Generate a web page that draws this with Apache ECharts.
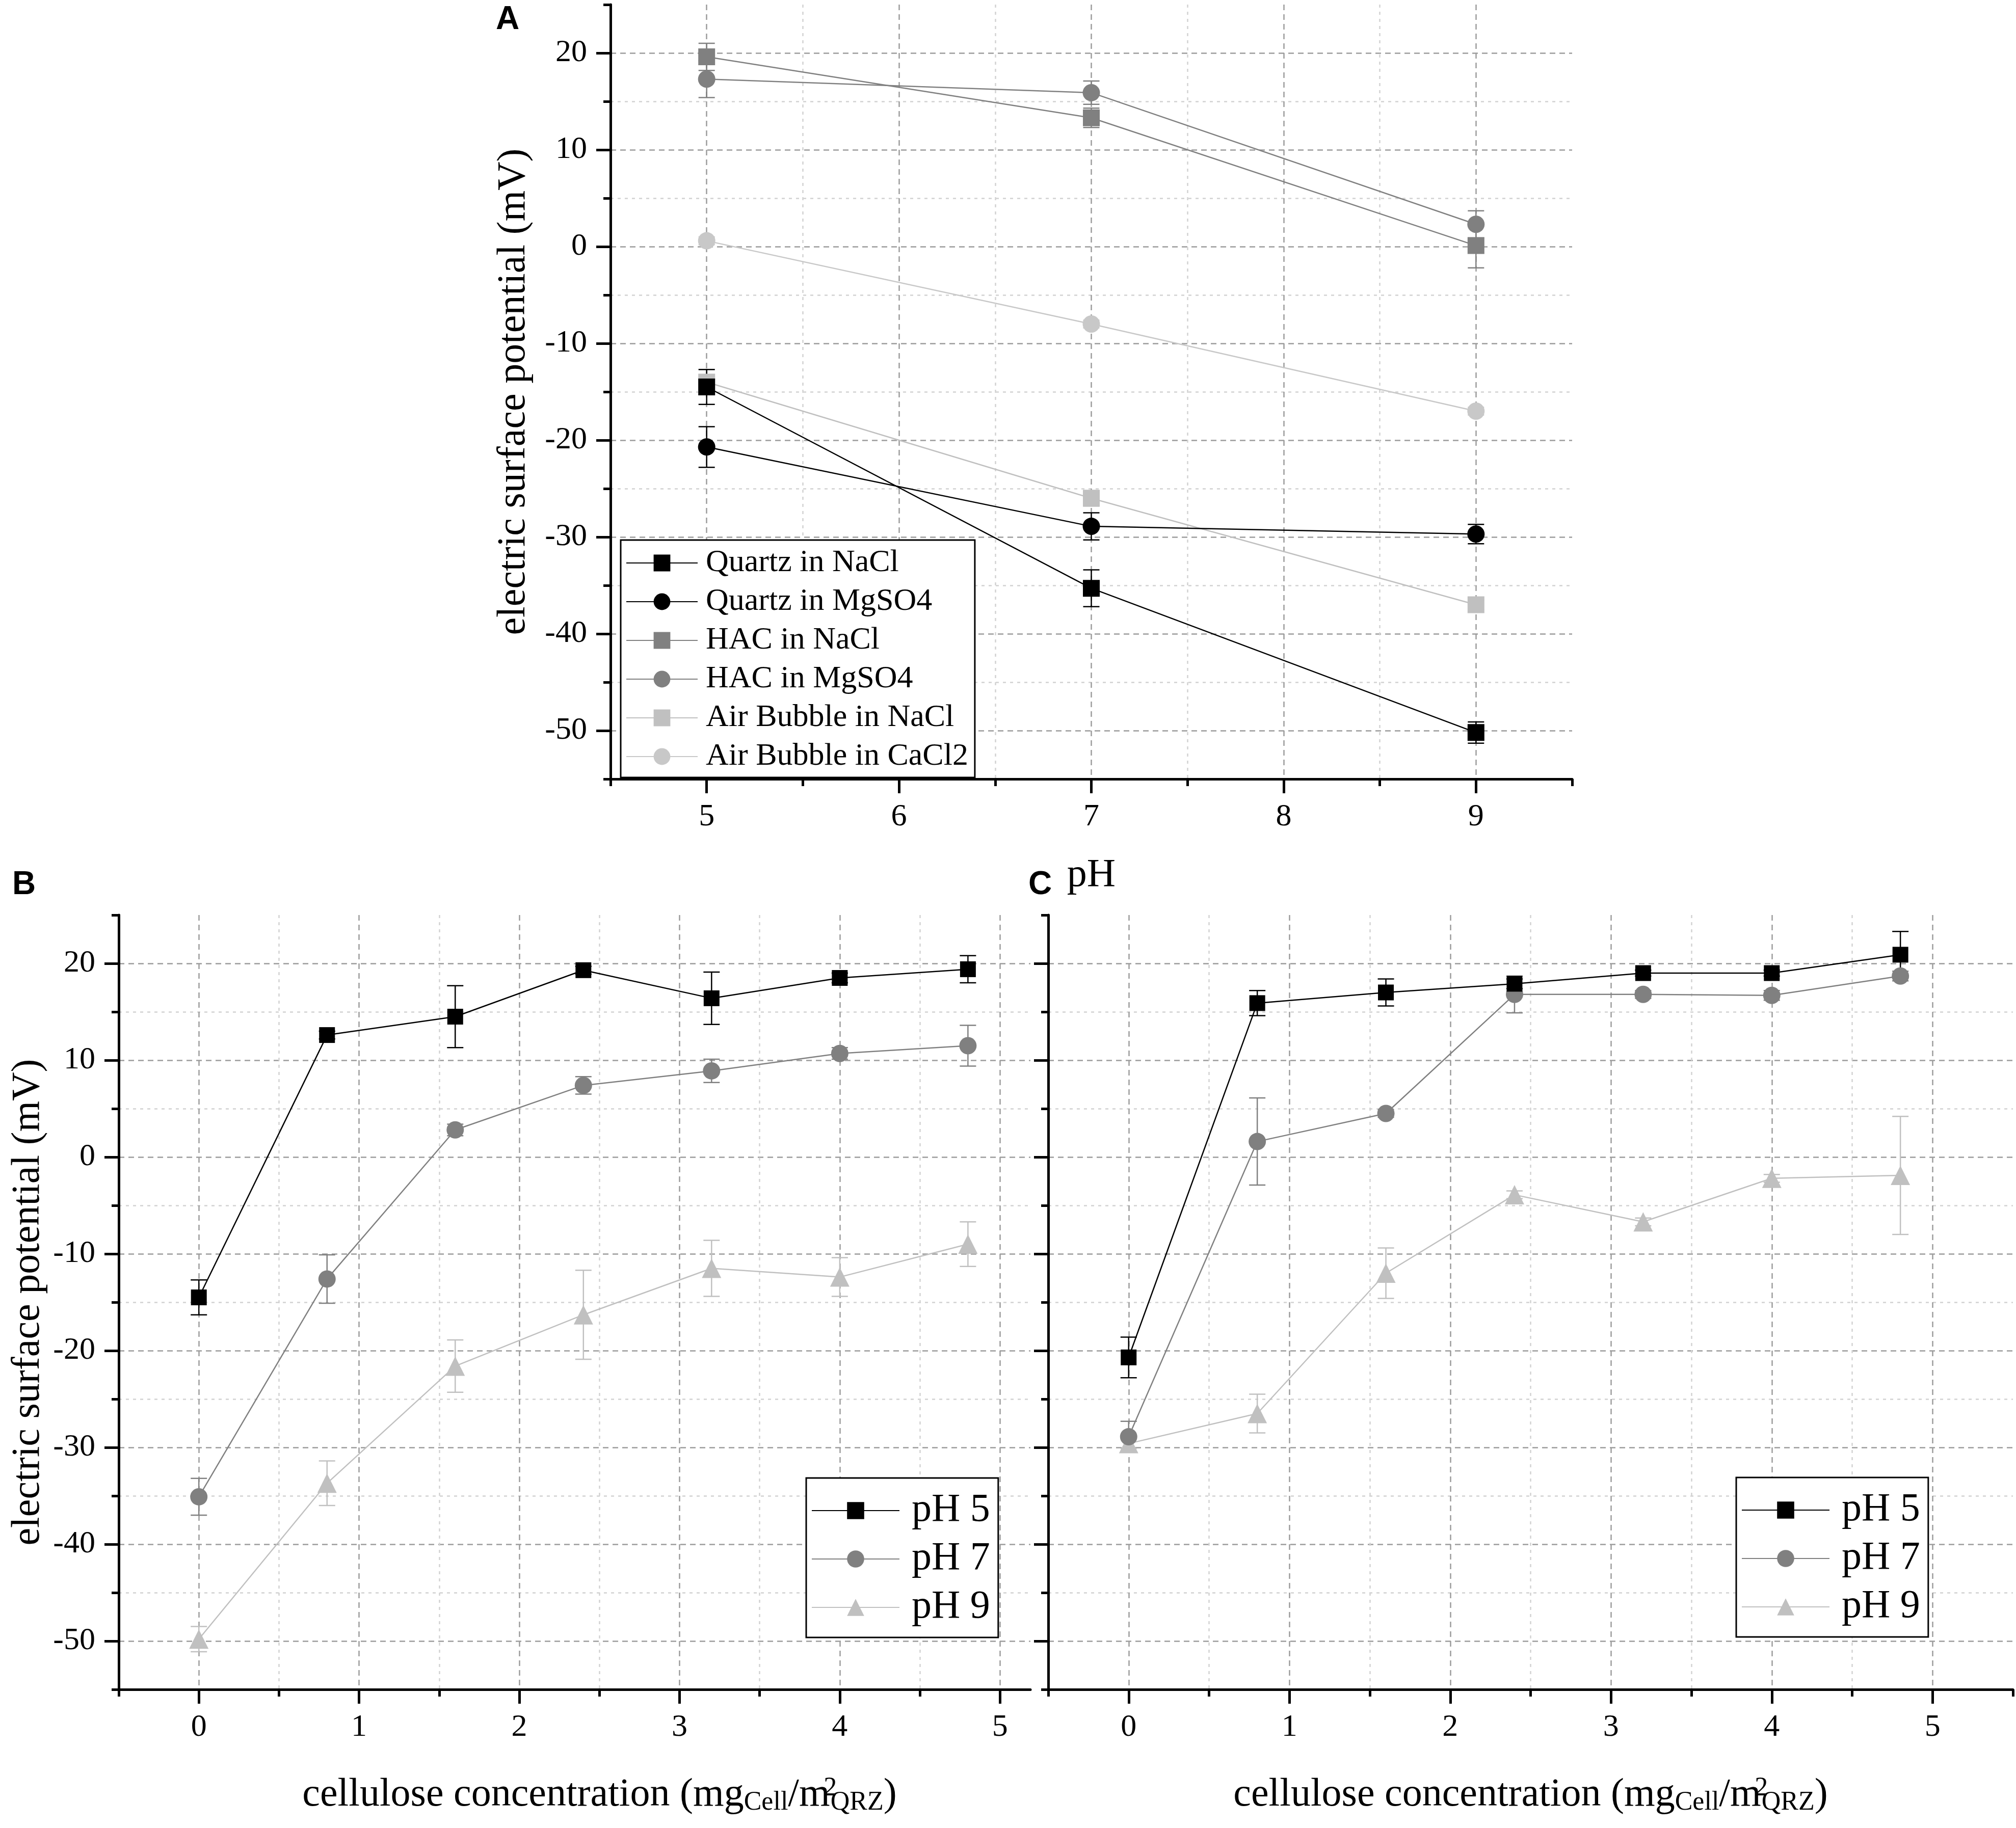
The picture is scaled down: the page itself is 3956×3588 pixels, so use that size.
<!DOCTYPE html>
<html>
<head>
<meta charset="utf-8">
<script src="https://cdn.jsdelivr.net/npm/echarts@6/dist/echarts.min.js"></script>
<style>
html, body { margin: 0; padding: 0; background: #fff; }
#chart { width: 3956px; height: 3588px; }
</style>
</head>
<body>
<div id="chart"></div>
<script>
// panel A: potential vs pH
const pHValues = [5, 7, 9];
const quartzNaCl = [-14.5, -35.3, -50.2];
const quartzNaClErr = [1.8, 1.9, 1.1];
const quartzMgSO4 = [-20.7, -28.9, -29.7];
const quartzMgSO4Err = [2.1, 1.4, 1.0];
const hacNaCl = [19.6, 13.3, 0.1];
const hacNaClErr = [1.4, 1.0, 2.3];
const hacMgSO4 = [17.3, 15.9, 2.3];
const hacMgSO4Err = [1.9, 1.2, 1.4];
const airNaCl = [-14.0, -26.0, -37.0];
const airNaClErr = [1.3, 0.8, 0.5];
const airCaCl2 = [0.6, -8.0, -17.0];
const airCaCl2Err = [0.4, 0.4, 0.4];

// panels B and C: potential vs cellulose concentration
const cellConc = [0, 0.8, 1.6, 2.4, 3.2, 4.0, 4.8];
const bPH5 = [-14.5, 12.6, 14.5, 19.3, 16.4, 18.5, 19.4];
const bPH5Err = [1.8, 0.4, 3.2, 0.4, 2.7, 0.5, 1.4];
const bPH7 = [-35.1, -12.6, 2.8, 7.4, 8.9, 10.7, 11.5];
const bPH7Err = [1.9, 2.5, 0.6, 0.9, 1.2, 0.6, 2.1];
const bPH9 = [-49.8, -33.7, -21.6, -16.3, -11.5, -12.4, -9.0];
const bPH9Err = [1.3, 2.3, 2.7, 4.6, 2.9, 2.0, 2.3];

const cPH5 = [-20.7, 15.9, 17.0, 17.9, 19.0, 19.0, 20.9];
const cPH5Err = [2.1, 1.3, 1.4, 0.5, 0.3, 0.3, 2.4];
const cPH7 = [-28.9, 1.6, 4.5, 16.8, 16.8, 16.7, 18.7];
const cPH7Err = [1.6, 4.5, 0.4, 1.9, 0.4, 0.5, 0.5];
const cPH9 = [-29.6, -26.5, -12.0, -3.9, -6.7, -2.2, -1.9];
const cPH9Err = [0.5, 2.0, 2.6, 0.4, 0.4, 0.4, 6.1];

// ticks
const yMajorTicks = [-50, -40, -30, -20, -10, 0, 10, 20];
const yMinorTicks = [-55, -45, -35, -25, -15, -5, 5, 15, 25];
const xMajorA = [5, 6, 7, 8, 9];
const xMinorA = [4.5, 5.5, 6.5, 7.5, 8.5, 9.5];
const xMajorBC = [0, 1, 2, 3, 4, 5];
const xMinorBC = [-0.5, 0.5, 1.5, 2.5, 3.5, 4.5, 5.5];

const legendA = ['Quartz in NaCl', 'Quartz in MgSO4', 'HAC in NaCl', 'HAC in MgSO4', 'Air Bubble in NaCl', 'Air Bubble in CaCl2'];
const legendBC = ['pH 5', 'pH 7', 'pH 9'];

const serif = 'Liberation Serif';
const BLACK = '#000000', DARK = '#808080', LIGHT = '#c0c0c0', LIGHTER = '#c8c8c8';

const xAxes = [], yAxes = [], series = [];

const cellName = 'cellulose concentration (mg{sub|Cell}/m{sup|2}{sub|QRZ})';
const nameRich = {
    sub: { fontFamily: serif, fontSize: 52, color: '#000', verticalAlign: 'bottom', lineHeight: 6 },
    sup: { fontFamily: serif, fontSize: 52, color: '#000', verticalAlign: 'top', lineHeight: 6, width: 1 }
};

function addAxes(g, xMin, xMax, xMajor, xMinor, yLabels, xName, xNameGap, xNamePad, yName, yNameGap) {
    const xm = xMinor.filter(v => v <= xMax);
    xAxes.push({
        gridIndex: g, type: 'value', min: xMin, max: xMax, position: 'bottom',
        axisLine: { show: true, onZero: false, lineStyle: { color: '#000', width: 5 } },
        axisTick: { show: true, length: 28, customValues: xMajor, lineStyle: { color: '#000', width: 5 } },
        axisLabel: { show: true, customValues: xMajor, margin: 44, fontFamily: serif, fontSize: 62, color: '#000' },
        splitLine: { show: true, lineStyle: { color: '#9c9c9c', width: 2.5, type: [11, 8] } },
        name: xName, nameLocation: 'middle', nameGap: xNameGap,
        nameTextStyle: { fontFamily: serif, fontSize: 78, color: '#000', lineHeight: 80, padding: xNamePad, rich: nameRich }
    });
    xAxes.push({
        gridIndex: g, type: 'value', min: xMin, max: xMax, position: 'bottom',
        axisLine: { show: false, onZero: false },
        axisTick: { show: true, length: 14, customValues: xm, lineStyle: { color: '#000', width: 5 } },
        axisLabel: { show: false },
        splitLine: { show: true, showMinLine: false, showMaxLine: xm[xm.length - 1] < xMax,
            lineStyle: { color: '#d2d2d2', width: 2.5, type: [6, 8] } }
    });
    yAxes.push({
        gridIndex: g, type: 'value', min: -55, max: 25, position: 'left',
        axisLine: { show: true, onZero: false, lineStyle: { color: '#000', width: 5 } },
        axisTick: { show: true, length: 28, customValues: yMajorTicks, lineStyle: { color: '#000', width: 5 } },
        axisLabel: { show: yLabels, customValues: yMajorTicks, margin: 46, fontFamily: serif, fontSize: 62, color: '#000' },
        splitLine: { show: true, lineStyle: { color: '#9c9c9c', width: 2.5, type: [11, 8] } },
        name: yName, nameLocation: 'middle', nameGap: yNameGap,
        nameTextStyle: { fontFamily: serif, fontSize: 78, color: '#000' }
    });
    yAxes.push({
        gridIndex: g, type: 'value', min: -55, max: 25, position: 'left',
        axisLine: { show: false, onZero: false },
        axisTick: { show: true, length: 14, customValues: yMinorTicks, lineStyle: { color: '#000', width: 5 } },
        axisLabel: { show: false },
        splitLine: { show: true, showMinLine: false, showMaxLine: false,
            lineStyle: { color: '#d2d2d2', width: 2.5, type: [6, 8] } }
    });
}

function errorBarItem(color) {
    return function (params, api) {
        const x = api.value(0);
        const y = api.value(1);
        const e = api.value(2);
        const top = api.coord([x, y + e]);
        const bot = api.coord([x, y - e]);
        const half = 16;
        const style = { stroke: color, lineWidth: 2.5 };
        return {
            type: 'group',
            children: [
                { type: 'line', shape: { x1: top[0], y1: top[1], x2: bot[0], y2: bot[1] }, style: style },
                { type: 'line', shape: { x1: top[0] - half, y1: top[1], x2: top[0] + half, y2: top[1] }, style: style },
                { type: 'line', shape: { x1: bot[0] - half, y1: bot[1], x2: bot[0] + half, y2: bot[1] }, style: style }
            ]
        };
    };
}

function addSeries(g, name, xs, ys, errs, color, symbol, size) {
    series.push({
        type: 'custom', xAxisIndex: g * 2, yAxisIndex: g * 2, silent: true, z: 2,
        renderItem: errorBarItem(color),
        encode: { x: 0, y: 1 },
        data: xs.map((x, i) => [x, ys[i], errs[i]])
    });
    series.push({
        type: 'line', name: name, xAxisIndex: g * 2, yAxisIndex: g * 2, z: 3,
        data: xs.map((x, i) => [x, ys[i]]),
        symbol: symbol, symbolSize: size, showSymbol: true,
        itemStyle: { color: color, opacity: 1 },
        lineStyle: { color: color, width: 2.5 },
        emphasis: { disabled: true }
    });
}

addAxes(0, 4.5, 9.5, xMajorA, xMinorA, true, 'pH', 150, [0, 0, 0, 0], 'electric surface potential (mV)', 150);
addAxes(1, -0.5, 5.19, xMajorBC, xMinorBC, true, cellName, 168, [0, 0, 0, 98], 'electric surface potential (mV)', 138);
addAxes(2, -0.5, 5.5, xMajorBC, xMinorBC, false, cellName, 168, [0, 0, 0, 0], '', 0);

addSeries(0, legendA[5], pHValues, airCaCl2, airCaCl2Err, LIGHTER, 'circle', 34);
addSeries(0, legendA[4], pHValues, airNaCl, airNaClErr, LIGHT, 'rect', 33);
addSeries(0, legendA[3], pHValues, hacMgSO4, hacMgSO4Err, DARK, 'circle', 34);
addSeries(0, legendA[2], pHValues, hacNaCl, hacNaClErr, DARK, 'rect', 33);
addSeries(0, legendA[1], pHValues, quartzMgSO4, quartzMgSO4Err, BLACK, 'circle', 34);
addSeries(0, legendA[0], pHValues, quartzNaCl, quartzNaClErr, BLACK, 'rect', 33);

addSeries(1, legendBC[2], cellConc, bPH9, bPH9Err, LIGHT, 'triangle', 38);
addSeries(1, legendBC[1], cellConc, bPH7, bPH7Err, DARK, 'circle', 34);
addSeries(1, legendBC[0], cellConc, bPH5, bPH5Err, BLACK, 'rect', 31);

addSeries(2, legendBC[2], cellConc, cPH9, cPH9Err, LIGHT, 'triangle', 38);
addSeries(2, legendBC[1], cellConc, cPH7, cPH7Err, DARK, 'circle', 34);
addSeries(2, legendBC[0], cellConc, cPH5, cPH5Err, BLACK, 'rect', 31);

function legendBox(data, left, top, pad, w, h, gap, size, textPad) {
    return {
        data: data, orient: 'vertical', left: left, top: top, padding: pad,
        itemWidth: w, itemHeight: h, itemGap: gap, selectedMode: false,
        backgroundColor: '#fff', borderColor: '#000', borderWidth: 3, borderRadius: 0,
        textStyle: { fontFamily: serif, fontSize: size, color: '#000', padding: textPad }
    };
}

const chart = echarts.init(document.getElementById('chart'), null, { renderer: 'canvas' });
chart.setOption({
    backgroundColor: '#fff',
    animation: false,
    grid: [
        { left: 1198, top: 9, width: 1887, height: 1520, outerBoundsMode: 'none', containLabel: false },
        { left: 233, top: 1796, width: 1789, height: 1520, outerBoundsMode: 'none', containLabel: false },
        { left: 2057, top: 1796, width: 1893, height: 1520, outerBoundsMode: 'none', containLabel: false }
    ],
    xAxis: xAxes,
    yAxis: yAxes,
    legend: [
        legendBox(legendA, 1218, 1060, [14, 13, 10, 10], 140, 41, 14, 62, [0, 0, 0, 11]),
        legendBox(legendBC, 1582, 2901, [25, 16, 20, 10], 172, 42, 17, 78, [0, 0, 0, 19]),
        legendBox(legendBC, 3407, 2900, [25, 16, 20, 10], 172, 42, 17, 78, [0, 0, 0, 19])
    ],
    graphic: [
        { type: 'text', x: 973, y: 39, style: { text: 'A', fontFamily: 'Liberation Sans', fontWeight: 'bold', fontSize: 64, fill: '#000', align: 'left', verticalAlign: 'middle' } },
        { type: 'text', x: 24, y: 1737, style: { text: 'B', fontFamily: 'Liberation Sans', fontWeight: 'bold', fontSize: 64, fill: '#000', align: 'left', verticalAlign: 'middle' } },
        { type: 'text', x: 2018, y: 1737, style: { text: 'C', fontFamily: 'Liberation Sans', fontWeight: 'bold', fontSize: 64, fill: '#000', align: 'left', verticalAlign: 'middle' } }
    ],
    series: series
});
</script>
</body>
</html>
